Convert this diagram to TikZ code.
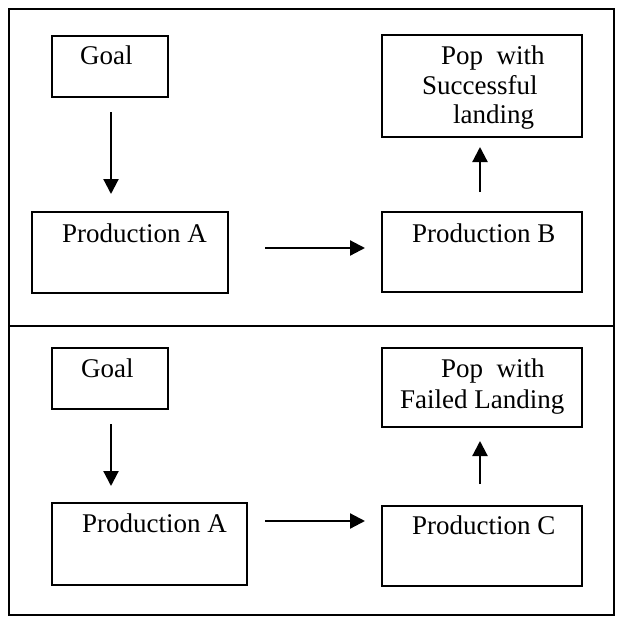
\documentclass[tikz,border=0pt]{standalone}
\usepackage{fontspec}
\setmainfont{Liberation Serif}
\usetikzlibrary{arrows.meta}
\begin{document}
\begin{tikzpicture}[x=1pt,y=-1pt,
  box/.style={draw=black,line width=2.2pt,rectangle,inner sep=0pt},
  txt/.style={inner sep=0pt,anchor=base west,font=\fontsize{27}{30}\selectfont},
  conn/.style={line width=2.2pt,-{Triangle[length=15pt,width=15pt]}},
  frame/.style={line width=2.8pt}]
\useasboundingbox (0,0) rectangle (616,618);
% outer frame and divider
\draw[frame] (9,9) rectangle (614,615);
\coordinate (dl) at (9,326);
\coordinate (dr) at (614,326);
\draw[frame] (dl) -- (dr);
% ---------- top half ----------
\node[box,minimum width=116pt,minimum height=61pt] (g1) at (110,66.5) {};
\node[txt] (g1t) at (80,65) {Goal};
\node[box,minimum width=196pt,minimum height=81pt] (a1) at (130,252.5) {};
\node[txt] (a1t) at (62,242) {Production A};
\node[box,minimum width=200pt,minimum height=102pt] (p1) at (482,86) {};
\node[txt] (p1a) at (441,65) {Pop\ \ with};
\node[txt] (p1b) at (422,94) {Successful};
\node[txt] (p1c) at (453,123) {landing};
\node[box,minimum width=200pt,minimum height=80pt] (b1) at (482,252) {};
\node[txt] (b1t) at (412,242) {Production B};
\coordinate (s1) at (111,112);
\coordinate (e1) at (111,194);
\draw[conn] (s1) -- (e1);
\coordinate (s2) at (265,248);
\coordinate (e2) at (365,248);
\draw[conn] (s2) -- (e2);
\coordinate (s3) at (480,192);
\coordinate (e3) at (480,147);
\draw[conn] (s3) -- (e3);
% ---------- bottom half ----------
\node[box,minimum width=116pt,minimum height=61pt] (g2) at (110,378.5) {};
\node[txt] (g2t) at (81,377) {Goal};
\node[box,minimum width=195pt,minimum height=82pt] (a2) at (149.5,544) {};
\node[txt] (a2t) at (82,532) {Production A};
\node[box,minimum width=200pt,minimum height=79pt] (p2) at (482,387.5) {};
\node[txt] (p2a) at (441,377) {Pop\ \ with};
\node[txt] (p2b) at (400,408) {Failed Landing};
\node[box,minimum width=200pt,minimum height=80pt] (c2) at (482,546) {};
\node[txt] (c2t) at (412,534) {Production C};
\coordinate (s4) at (111,424);
\coordinate (e4) at (111,486);
\draw[conn] (s4) -- (e4);
\coordinate (s5) at (265,521);
\coordinate (e5) at (365,521);
\draw[conn] (s5) -- (e5);
\coordinate (s6) at (480,484);
\coordinate (e6) at (480,441);
\draw[conn] (s6) -- (e6);
\end{tikzpicture}
\end{document}
